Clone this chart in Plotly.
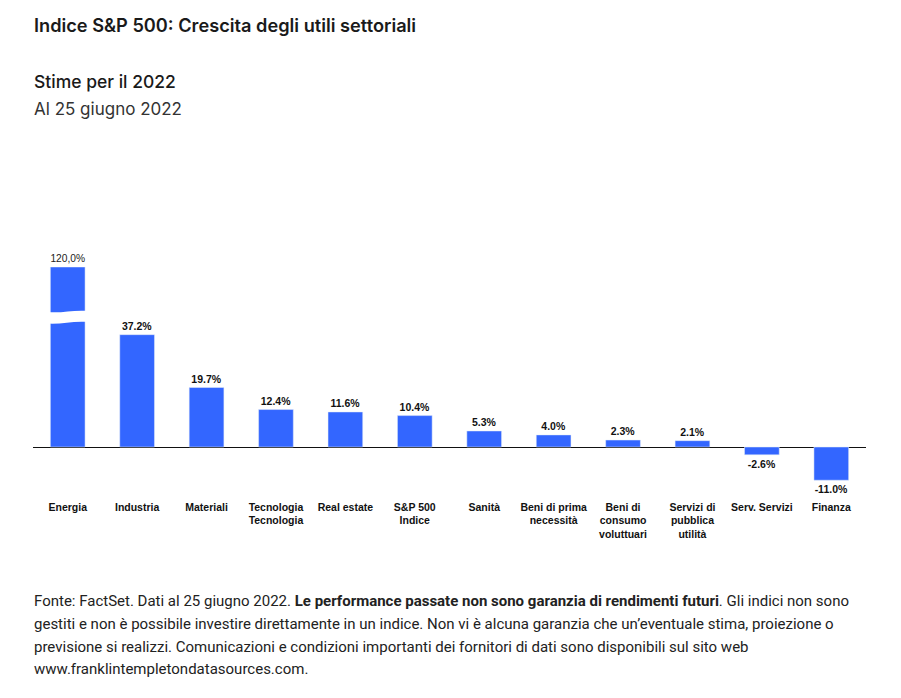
import plotly.graph_objects as go

# ---- data ----
categories = ["Energia", "Industria", "Materiali", "Tecnologia Tecnologia", "Real estate",
              "S&P 500 Indice", "Sanità", "Beni di prima necessità",
              "Beni di consumo voluttuari", "Servizi di pubblica utilità",
              "Serv. Servizi", "Finanza"]
tick_labels = ["Energia", "Industria", "Materiali", "Tecnologia<br>Tecnologia", "Real estate",
               "S&P 500<br>Indice", "Sanità", "Beni di prima<br>necessità",
               "Beni di<br>consumo<br>voluttuari", "Servizi di<br>pubblica<br>utilità",
               "Serv. Servizi", "Finanza"]
growth = [120.0, 37.2, 19.7, 12.4, 11.6, 10.4, 5.3, 4.0, 2.3, 2.1, -2.6, -11.0]

title = "Indice S&P 500: Crescita degli utili settoriali"
subtitle1 = "Stime per il 2022"
subtitle2 = "Al 25 giugno 2022"
footnote_lines = [
    "Fonte: FactSet. Dati al 25 giugno 2022. <b>Le performance passate non sono garanzia di rendimenti futuri</b>. Gli indici non sono",
    "gestiti e non è possibile investire direttamente in un indice. Non vi è alcuna garanzia che un’eventuale stima, proiezione o",
    "previsione si realizzi. Comunicazioni e condizioni importanti dei fornitori di dati sono disponibili sul sito web",
    "www.franklintempletondatasources.com.",
]

BAR_COLOR = "#3366FF"
OFF = 8                 # page body margin
W, H = 901 - 2 * OFF, 698 - 2 * OFF
# layout targets in page pixels
L, R = 33, 866
TOP, BOT = 250, 499
ZERO_PIX = 447
PX_PER_UNIT = 3.02
UPPER_TOP, UPPER_BOT = 267, 314
LOWER_TOP = 320


def py(pix):
    return (BOT - pix) / (BOT - TOP)


def px(pix):
    return (pix - L) / (R - L)


lower_range = [(ZERO_PIX - BOT) / PX_PER_UNIT, (ZERO_PIX - LOWER_TOP) / PX_PER_UNIT]
upper_max = max(growth)
upper_range = [upper_max - (UPPER_BOT - UPPER_TOP) / PX_PER_UNIT, upper_max]

idx = list(range(len(categories)))
lower_text = [f"{v:.1f}%" if v <= lower_range[1] else "" for v in growth]
upper_text = [f"{v:.1f}%".replace(".", ",") if v > lower_range[1] else "" for v in growth]

fig = go.Figure()
fig.add_trace(go.Bar(
    x=idx, y=growth, xaxis="x", yaxis="y", marker_color=BAR_COLOR, width=0.5,
    text=lower_text, textposition="outside", cliponaxis=False,
    textfont=dict(family="Liberation Sans, Arial, sans-serif", size=10.5, color="#111", weight="bold"),
    hoverinfo="skip", showlegend=False,
))
fig.add_trace(go.Bar(
    x=idx, y=growth, xaxis="x2", yaxis="y2", marker_color=BAR_COLOR, width=0.5,
    text=upper_text, textposition="outside", cliponaxis=False,
    textfont=dict(family="Liberation Sans, Arial, sans-serif", size=10.5, color="#222"),
    hoverinfo="skip", showlegend=False,
))

# wavy break on the broken bar(s)
shapes = []
for i, v in enumerate(growth):
    if v > lower_range[1]:
        xl, xr = i - 0.3, i + 0.3
        path = (f"M {xl},{py(312)} C {i-0.08},{py(313.5)} {i+0.08},{py(309.5)} {xr},{py(311)} "
                f"L {xr},{py(322)} C {i+0.08},{py(320.5)} {i-0.08},{py(324.5)} {xl},{py(323.5)} Z")
        shapes.append(dict(type="path", path=path, xref="x", yref="paper",
                           fillcolor="white", line=dict(width=0), layer="above"))

annotations = [
    dict(text=title, x=px(32), y=py(25), xref="paper", yref="paper", xanchor="left",
         yanchor="middle", showarrow=False,
         font=dict(family="Inter, sans-serif", size=18.2, color="#1a1a1a", weight=600)),
    dict(text=subtitle1, x=px(32), y=py(81), xref="paper", yref="paper", xanchor="left",
         yanchor="middle", showarrow=False,
         font=dict(family="Inter, sans-serif", size=17.5, color="#1a1a1a", weight=500)),
    dict(text=subtitle2, x=px(32), y=py(109), xref="paper", yref="paper", xanchor="left",
         yanchor="middle", showarrow=False,
         font=dict(family="Inter, sans-serif", size=17, color="#333333", weight=400)),
]
for line, ypix in zip(footnote_lines, [601, 624, 647, 669]):
    annotations.append(dict(text=line, x=px(32), y=py(ypix), xref="paper", yref="paper",
                            xanchor="left", yanchor="middle", showarrow=False,
                            font=dict(family="Roboto, sans-serif", size=15, color="#222")))

fig.update_layout(
    width=W, height=H,
    margin=dict(l=L - OFF, r=(W + OFF) - R, t=TOP - OFF, b=(H + OFF) - BOT, pad=0),
    paper_bgcolor="white", plot_bgcolor="white",
    bargap=0.5,
    xaxis=dict(domain=[0, 1], range=[-0.5, len(idx) - 0.5], tickmode="array", tickvals=idx,
               ticktext=tick_labels, ticks="", showline=False, showgrid=False, zeroline=False,
               anchor="y",
               tickfont=dict(family="Liberation Sans, Arial, sans-serif", size=10.5,
                             color="#111", weight="bold")),
    xaxis2=dict(domain=[0, 1], range=[-0.5, len(idx) - 0.5], matches="x", anchor="y2",
                showticklabels=False, showgrid=False, zeroline=False, showline=False, ticks=""),
    yaxis=dict(domain=[0, py(LOWER_TOP)], range=lower_range, showticklabels=False,
               showgrid=False, zeroline=True, zerolinecolor="#111", zerolinewidth=1,
               showline=False, ticks=""),
    yaxis2=dict(domain=[py(UPPER_BOT), py(UPPER_TOP)], range=upper_range, showticklabels=False,
                showgrid=False, zeroline=False, showline=False, ticks=""),
    shapes=shapes,
    annotations=annotations,
    font=dict(family="Liberation Sans, Arial, sans-serif"),
)

fig.write_html("out.html")
